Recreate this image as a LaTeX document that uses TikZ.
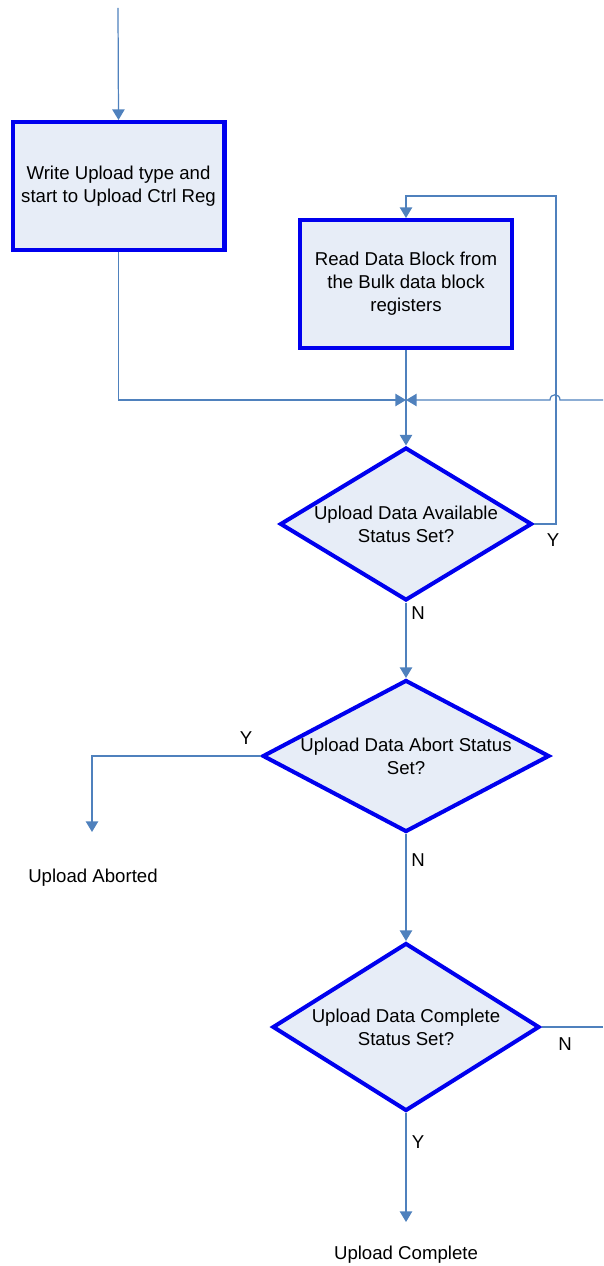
\documentclass[tikz,border=0pt]{standalone}
\usepackage{fontspec}
\setmainfont{Liberation Sans}
\usetikzlibrary{shapes.geometric,arrows.meta}

\definecolor{boxblue}{RGB}{0,0,238}
\definecolor{boxfill}{RGB}{231,237,247}
\definecolor{linkblue}{RGB}{79,129,189}

\begin{document}
\begin{tikzpicture}[x=0.02cm, y=-0.02cm,
    font=\fontsize{10.6}{13}\selectfont,
    stepbox/.style={rectangle, draw=boxblue, line width=2.3pt, fill=boxfill,
      minimum width=4.24cm, minimum height=2.56cm, align=center, inner sep=0pt},
    testbox/.style={diamond, draw=boxblue, line width=2.3pt, fill=boxfill,
      align=center, inner sep=0pt},
    link/.style={draw=linkblue, line width=0.7pt},
    linkarrow/.style={link, -{Triangle[length=6pt, width=7pt]}},
    answer/.style={anchor=center}
  ]
    \useasboundingbox (0,0) rectangle (603,1266);

    % Kasten oben links
    \coordinate (start) at (118,8);
    \node [stepbox] (write) at (118.5,186) {Write Upload type and\\start to Upload Ctrl Reg};
    \draw [linkarrow] (start) -- (write.north);

    % Kasten Daten lesen
    \node [stepbox] (read) at (406,284) {Read Data Block from\\the Bulk data block\\registers};

    % Zusammenführung
    \coordinate (join) at (406,400);
    \coordinate (rin) at (603,400);
    \draw [linkarrow] (write.south) |- (join);
    \draw [linkarrow] (rin) -- (560,400) .. controls (560,393) and (550,393) .. (550,400) -- (join);

    % Raute 1
    \node [testbox, aspect=1.65, minimum width=5.04cm, minimum height=3.06cm] (avail) at (406,524)
      {Upload Data Available\\Status Set?};
    \draw [linkarrow] (read.south) -- (avail.north);
    \coordinate (loop) at (556,196);
    \draw [linkarrow] (avail.east) -| (loop) -| (read.north);
    \node [answer] (y1) at (553,540) {Y};

    % Raute 2
    \node [testbox, aspect=1.89, minimum width=5.74cm, minimum height=3.04cm] (abort) at (406,756)
      {Upload Data Abort Status\\Set?};
    \draw [linkarrow] (avail.south) -- (abort.north);
    \node [answer] (n1) at (418,613) {N};
    \coordinate (abend) at (92,832);
    \draw [linkarrow] (abort.west) -| (abend);
    \node [answer] (y2) at (246,738) {Y};
    \node (aborted) at (93,878) {Upload Aborted};

    % Raute 3
    \node [testbox, aspect=1.59, minimum width=5.34cm, minimum height=3.36cm] (done) at (406,1027)
      {Upload Data Complete\\Status Set?};
    \draw [linkarrow] (abort.south) -- (done.north);
    \node [answer] (n2) at (418,860) {N};
    \coordinate (dout) at (603,1027);
    \draw [link] (done.east) -- (dout);
    \node [answer] (n3) at (565,1044) {N};
    \coordinate (doneend) at (406,1222);
    \draw [linkarrow] (done.south) -- (doneend);
    \node [answer] (y3) at (418,1142) {Y};
    \node (complete) at (406,1255) {Upload Complete};

\end{tikzpicture}
\end{document}
